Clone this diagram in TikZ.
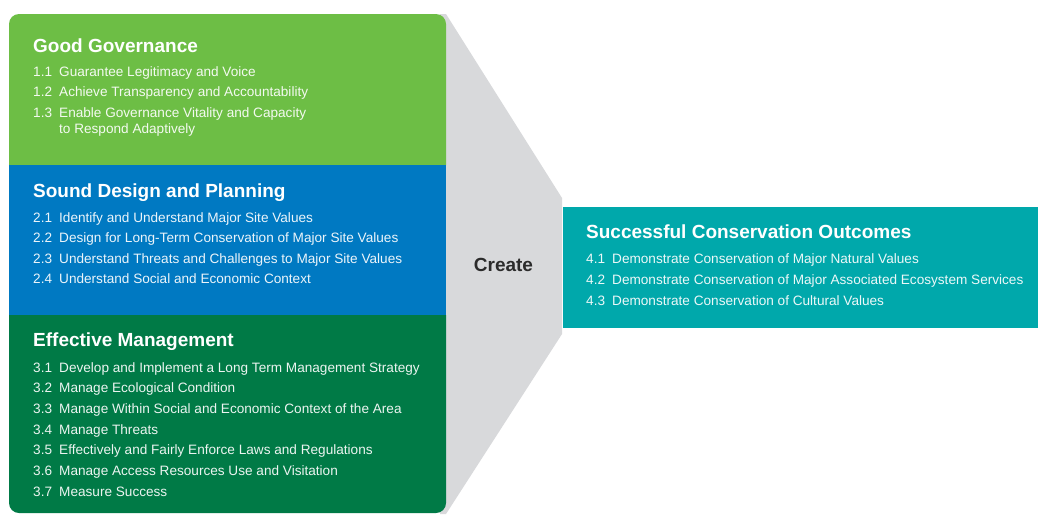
\documentclass[tikz,border=0pt]{standalone}
\usepackage{fontspec}
\setmainfont{Liberation Sans}
\usetikzlibrary{positioning}
\definecolor{govgreen}{HTML}{6DBE45}
\definecolor{designblue}{HTML}{0079C2}
\definecolor{mgmtgreen}{HTML}{007A46}
\definecolor{outteal}{HTML}{00A8AB}
\definecolor{funnel}{HTML}{D8D9DB}
\definecolor{darktext}{HTML}{2B2B2B}
\tikzset{
  heading/.style={anchor=base west,inner sep=0pt,text=white,
    font=\bfseries\fontsize{19}{22}\selectfont},
  item/.style={anchor=base west,inner sep=0pt,text=white,text opacity=0.92,
    font=\fontsize{13.6}{16.3}\selectfont},
  verb/.style={inner sep=0pt,text=darktext,font=\bfseries\fontsize{19}{22}\selectfont},
}
\newcommand{\num}[1]{\makebox[26pt][l]{#1}}
\begin{document}
\begin{tikzpicture}[x=1pt,y=-1pt]
  \useasboundingbox[fill=white] (0,0) rectangle (1038,514);
  % funnel behind the boxes
  \fill[funnel] (440,14) -- (446,14) -- (562,198) -- (562,334)
    -- (446,514) -- (440,514) -- cycle;
  % left column
  \fill[govgreen,rounded corners=10pt] (9,165) -- (9,14) -- (446,14)
    [sharp corners] -- (446,165) -- cycle;
  \fill[designblue] (9,165) rectangle (446,315);
  \fill[mgmtgreen,rounded corners=10pt] (9,315) -- (9,513) -- (446,513)
    [sharp corners] -- (446,315) -- cycle;
  \fill[outteal] (563,207) rectangle (1038,328);
  \node[verb] (create) at (503.5,265) {Create};
  % good governance
  \node[heading] (gov) at (33,52) {Good Governance};
  \foreach \n/\t [count=\i] in {1.1/{Guarantee Legitimacy and Voice},
      1.2/{Achieve Transparency and Accountability},
      1.3/{Enable Governance Vitality and Capacity}}
    \node[item] (gov\i) at (33,{76+20.6*(\i-1)}) {\num{\n}\t};
  \node[item,below=3.6pt of gov3.south west,anchor=north west,xshift=26pt]
    (gov3b) {to Respond Adaptively};
  % sound design and planning
  \node[heading] (design) at (33,197) {Sound Design and Planning};
  \foreach \n/\t [count=\i] in {2.1/{Identify and Understand Major Site Values},
      2.2/{Design for Long-Term Conservation of Major Site Values},
      2.3/{Understand Threats and Challenges to Major Site Values},
      2.4/{Understand Social and Economic Context}}
    \node[item] (design\i) at (33,{222+20.5*(\i-1)}) {\num{\n}\t};
  % effective management
  \node[heading] (mgmt) at (33,346) {Effective Management};
  \foreach \n/\t [count=\i] in {3.1/{Develop and Implement a Long Term Management Strategy},
      3.2/{Manage Ecological Condition},
      3.3/{Manage Within Social and Economic Context of the Area},
      3.4/{Manage Threats},
      3.5/{Effectively and Fairly Enforce Laws and Regulations},
      3.6/{Manage Access Resources Use and Visitation},
      3.7/{Measure Success}}
    \node[item] (mgmt\i) at (33,{372+20.7*(\i-1)}) {\num{\n}\t};
  % outcomes
  \node[heading] (outcome) at (586,238) {Successful Conservation Outcomes};
  \foreach \n/\t [count=\i] in {4.1/{Demonstrate Conservation of Major Natural Values},
      4.2/{Demonstrate Conservation of Major Associated Ecosystem Services},
      4.3/{Demonstrate Conservation of Cultural Values}}
    \node[item] (outcome\i) at (586,{263+21*(\i-1)}) {\num{\n}\t};
\end{tikzpicture}
\end{document}
